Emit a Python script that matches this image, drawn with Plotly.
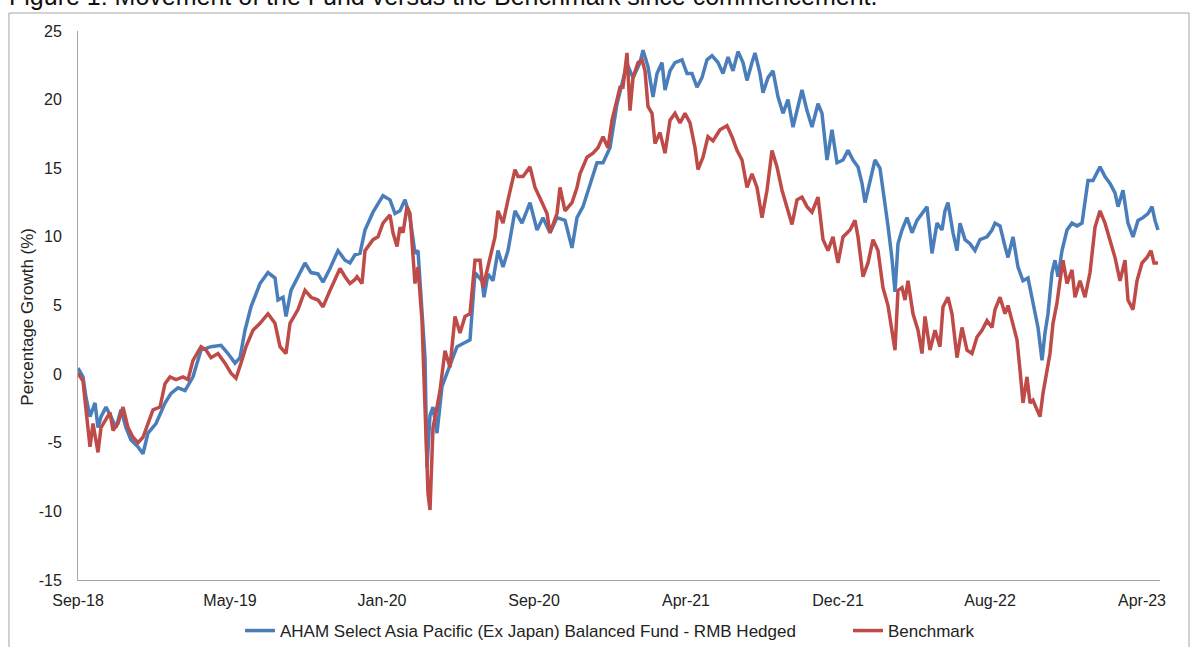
import plotly.graph_objects as go

# Trading-day index (axis position) and percentage growth
fund_day = [0, 5, 8, 12, 17, 20, 23, 28, 33, 38, 43, 48, 53, 60, 65, 70, 78, 87, 93, 100,
            107, 115, 123, 133, 143, 150, 157, 162, 167, 173, 182, 190, 197, 200, 205, 208, 213, 220, 227, 233,
            240, 245, 252, 260, 267, 272, 277, 282, 287, 295, 305, 312, 317, 322, 327, 332, 337, 340, 344, 347,
            349, 352, 355, 359, 364, 370, 379, 387, 392, 397, 404, 406, 410, 415, 420, 425, 430, 437, 444, 452,
            459, 465, 472, 479, 487, 494, 499, 505, 512, 519, 525, 532, 539, 544, 549, 555, 562, 565, 570, 575,
            579, 584, 587, 592, 597, 604, 609, 614, 619, 624, 629, 634, 640, 645, 650, 655, 660, 665, 669, 674,
            677, 682, 685, 690, 695, 700, 705, 710, 715, 720, 724, 729, 734, 740, 744, 749, 754, 759, 765, 770,
            775, 780, 784, 787, 792, 797, 802, 807, 810, 814, 817, 820, 824, 829, 834, 839, 844, 849, 854, 859,
            864, 867, 870, 875, 879, 882, 887, 892, 897, 902, 909, 914, 917, 922, 927, 930, 935, 940, 945, 950,
            955, 960, 964, 967, 970, 974, 977, 980, 984, 989, 994, 999, 1004, 1007, 1010, 1015, 1022, 1027, 1032, 1037,
            1040, 1045, 1050, 1055, 1060, 1065, 1070, 1074, 1077, 1080]
fund_pct = [0.44, -0.2, -1.7, -3.1, -2.1, -3.9, -3.1, -2.4, -3.1, -3.9, -2.6, -3.9, -4.8, -5.3, -5.8, -4.3, -3.6, -2.1, -1.4, -1.0,
            -1.2, -0.2, 1.75, 2.0, 2.1, 1.5, 0.8, 1.2, 3.2, 4.9, 6.6, 7.4, 7.0, 5.4, 5.6, 4.2, 6.1, 7.1, 8.1, 7.4,
            7.3, 6.7, 7.7, 9.0, 8.3, 8.1, 8.7, 8.8, 10.5, 11.8, 13.0, 12.7, 11.7, 11.9, 12.7, 11.4, 8.8, 9.0, 4.9, 1.2,
            -6.8, -3.0, -2.4, -4.3, -0.9, 0.3, 2.0, 2.3, 2.5, 7.4, 6.8, 5.6, 7.3, 6.8, 9.0, 7.8, 9.0, 11.9, 11.0, 12.5,
            10.5, 11.4, 10.3, 11.4, 11.2, 9.2, 11.4, 12.2, 13.9, 15.4, 15.4, 16.5, 19.7, 21.2, 22.6, 21.6, 22.7, 23.6, 22.4, 20.2,
            21.9, 22.7, 20.7, 22.1, 22.7, 22.9, 21.9, 21.9, 20.9, 21.6, 22.9, 23.2, 22.7, 21.9, 23.1, 22.1, 23.5, 22.7, 21.4, 22.7,
            23.4, 21.9, 20.5, 21.6, 22.1, 20.2, 19.0, 20.0, 18.0, 19.5, 20.7, 19.2, 18.0, 19.7, 19.0, 15.6, 17.8, 15.4, 15.6, 16.3,
            15.6, 15.1, 13.9, 12.5, 14.1, 15.6, 15.0, 12.6, 10.8, 8.4, 6.0, 9.5, 10.5, 11.4, 10.3, 11.2, 11.7, 12.2, 8.8, 11.0,
            10.5, 11.9, 12.5, 10.3, 9.0, 11.0, 9.8, 9.5, 9.0, 9.8, 10.0, 10.5, 11.0, 10.8, 9.3, 8.5, 10.0, 7.8, 6.8, 7.0,
            5.2, 3.4, 1.0, 3.0, 4.4, 7.4, 8.3, 7.1, 9.0, 10.5, 11.0, 10.8, 11.0, 12.7, 14.1, 14.1, 15.1, 14.4, 13.9, 13.2,
            12.2, 13.4, 11.0, 10.0, 11.2, 11.4, 11.7, 12.2, 11.2, 10.5]

bench_day = [0, 5, 8, 12, 15, 20, 23, 27, 32, 35, 40, 45, 50, 55, 60, 65, 70, 75, 82, 87,
             92, 98, 105, 110, 115, 123, 128, 133, 140, 147, 153, 158, 163, 168, 175, 182, 190, 197, 202, 208,
             212, 220, 227, 233, 240, 245, 252, 262, 267, 272, 277, 279, 284, 287, 295, 300, 305, 312, 315, 319,
             322, 325, 329, 332, 337, 340, 344, 346, 348, 350, 352, 355, 359, 362, 367, 372, 377, 382, 387, 392,
             397, 402, 405, 412, 417, 420, 425, 430, 437, 440, 445, 452, 457, 464, 469, 472, 479, 482, 487, 494,
             499, 502, 509, 515, 520, 525, 530, 534, 539, 542, 545, 549, 552, 555, 560, 564, 567, 570, 574, 577,
             582, 587, 592, 597, 602, 607, 612, 617, 620, 625, 630, 635, 642, 649, 654, 659, 664, 669, 674, 679,
             684, 689, 694, 699, 704, 709, 714, 719, 724, 729, 734, 740, 745, 750, 755, 760, 765, 772, 777, 780,
             785, 790, 795, 800, 805, 810, 814, 817, 820, 824, 827, 830, 835, 840, 844, 847, 852, 857, 862, 865,
             870, 874, 879, 884, 889, 894, 899, 904, 909, 914, 917, 922, 927, 930, 934, 939, 942, 945, 949, 952,
             955, 959, 962, 965, 969, 972, 975, 979, 982, 985, 989, 994, 997, 1002, 1007, 1012, 1017, 1022, 1027, 1032,
             1037, 1042, 1047, 1050, 1055, 1059, 1064, 1069, 1073, 1076, 1080]
bench_pct = [0.07, -0.5, -2.6, -5.3, -3.6, -5.7, -3.9, -3.4, -2.8, -4.1, -3.6, -2.4, -3.9, -4.6, -5.0, -4.6, -3.6, -2.6, -2.4, -0.7,
             -0.2, -0.4, -0.2, -0.4, 1.0, 2.0, 1.75, 1.2, 1.5, 0.8, 0.07, -0.3, 0.8, 2.0, 3.2, 3.7, 4.4, 3.7, 2.0, 1.5,
             3.7, 4.7, 6.1, 5.6, 5.4, 4.9, 6.1, 7.7, 7.1, 6.6, 6.9, 7.1, 6.6, 9.0, 9.8, 10.0, 11.0, 11.6, 10.3, 9.3,
             10.7, 10.3, 12.2, 11.7, 6.6, 7.8, 3.9, -0.2, -3.9, -8.7, -9.9, -3.9, -2.4, -1.2, 1.7, 0.5, 4.2, 3.0, 4.2, 4.4,
             8.3, 8.3, 6.3, 8.5, 10.0, 11.9, 11.0, 12.7, 14.9, 14.4, 14.4, 15.1, 13.6, 12.5, 11.7, 10.3, 11.7, 13.6, 11.9, 12.5,
             13.6, 14.6, 15.8, 16.1, 16.5, 17.3, 16.5, 18.5, 20.0, 20.9, 20.9, 23.4, 19.2, 21.6, 22.7, 22.9, 22.1, 19.5, 19.0, 16.8,
             17.6, 16.1, 18.5, 19.0, 18.3, 19.0, 18.3, 16.5, 14.9, 15.8, 17.3, 17.0, 17.8, 18.1, 17.3, 16.3, 15.6, 13.6, 14.6, 13.6,
             11.4, 13.4, 16.3, 15.1, 13.4, 12.2, 10.9, 12.7, 12.9, 12.2, 11.8, 12.9, 9.8, 9.0, 10.0, 8.1, 10.0, 10.5, 11.2, 10.0,
             7.1, 8.1, 9.8, 9.0, 6.3, 5.0, 3.2, 1.75, 6.1, 6.3, 5.4, 6.8, 4.4, 3.2, 1.5, 4.2, 1.75, 3.2, 2.0, 4.9,
             5.6, 4.4, 1.2, 3.4, 1.75, 1.5, 2.7, 3.2, 3.9, 3.4, 4.7, 5.6, 4.4, 5.0, 3.9, 2.5, 0.3, -2.1, -0.2, -2.1,
             -1.9, -2.6, -3.1, -1.4, 0.07, 1.5, 3.7, 5.2, 6.8, 8.3, 6.6, 7.6, 5.6, 6.8, 5.6, 7.4, 10.7, 11.9, 11.0, 9.8,
             8.5, 6.8, 8.3, 5.4, 4.7, 6.8, 8.1, 8.5, 9.0, 8.1, 8.1]

tick_day = [0, 152, 304, 456, 608, 760, 912, 1064]
tick_label = ["Sep-18", "May-19", "Jan-20", "Sep-20", "Apr-21", "Dec-21", "Aug-22", "Apr-23"]
axis_end = 1082
y_ticks = [-15, -10, -5, 0, 5, 10, 15, 20, 25]
y_tick_label = ["-15", "-10", "-5", "0", "5", "10", "15", "20", "25"]

FONT = "Arial, Liberation Sans, sans-serif"
TXT = "#222222"

fig = go.Figure()
fig.add_trace(go.Scatter(x=fund_day, y=fund_pct, mode="lines",
                         name="AHAM Select Asia Pacific (Ex Japan) Balanced Fund - RMB Hedged",
                         line=dict(color="#4A7EBB", width=3.5), legend="legend"))
fig.add_trace(go.Scatter(x=bench_day, y=bench_pct, mode="lines", name="Benchmark",
                         line=dict(color="#BE4B48", width=3.5), legend="legend2"))

leg_common = dict(orientation="h", xref="container", yref="container", y=0.0247,
                  yanchor="middle", xanchor="left",
                  font=dict(size=17, color=TXT), bgcolor="rgba(0,0,0,0)")

fig.update_layout(
    width=1192, height=647,
    margin=dict(l=78, r=32, t=31, b=67, autoexpand=False),
    paper_bgcolor="white", plot_bgcolor="white",
    font=dict(family=FONT, size=16, color=TXT),
    showlegend=True,
    legend=dict(x=240 / 1192, **leg_common),
    legend2=dict(x=848 / 1192, **leg_common),
    xaxis=dict(range=[0, axis_end], tickmode="array", tickvals=tick_day, ticktext=tick_label,
               showline=True, linecolor="#A6A6A6", linewidth=1, showgrid=False, zeroline=False,
               automargin=False,
               ticks="", tickfont=dict(size=16, color=TXT), ticklabelstandoff=6),
    yaxis=dict(range=[-15, 25], tickmode="array", tickvals=y_ticks, ticktext=y_tick_label,
               showline=True, linecolor="#A6A6A6", linewidth=1, showgrid=False, zeroline=False,
               automargin=False,
               ticks="", tickfont=dict(size=16, color=TXT), ticklabelstandoff=12),
)

fig.add_annotation(text="Percentage Growth (%)", textangle=-90, xref="paper", yref="paper",
                   x=-0.047, y=0.48, xanchor="center", yanchor="middle", showarrow=False,
                   font=dict(size=17, color=TXT))
fig.add_annotation(text="Figure 1: Movement of the Fund versus the Benchmark since commencement.",
                   xref="paper", yref="paper", x=-0.066, y=1.064, xanchor="left", yanchor="middle",
                   showarrow=False, font=dict(size=25, color="#111111"))
fig.add_shape(type="rect", xref="paper", yref="paper", x0=-0.0638, x1=1.0268, y0=-0.2, y1=1.0328,
              line=dict(color="#A6A6A6", width=1), fillcolor="rgba(0,0,0,0)", layer="below")

fig.write_html("out.html")
